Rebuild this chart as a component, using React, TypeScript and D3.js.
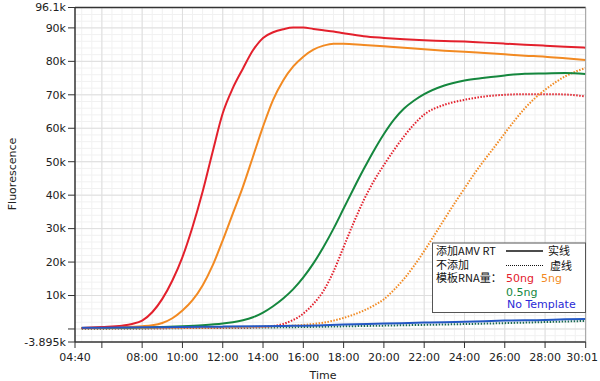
import React from "react";
import * as d3 from "d3";

const W = 600;
const H = 381;
const PLOT = { left: 75, right: 585.7, top: 7.5, bottom: 342 };

// x ticks (mm:ss)
const xTickTimes = ["04:40", "06:00", "08:00", "10:00", "12:00", "14:00", "16:00", "18:00", "20:00", "22:00", "24:00", "26:00", "28:00", "30:01"];
const xTickLabels = ["04:40", "", "08:00", "10:00", "12:00", "14:00", "16:00", "18:00", "20:00", "22:00", "24:00", "26:00", "28:00", "30:01"];
// y ticks
const yTickValues = [96100, 90000, 80000, 70000, 60000, 50000, 40000, 30000, 20000, 10000, 0, -3895];
const yTickLabels = ["96.1k", "90k", "80k", "70k", "60k", "50k", "40k", "30k", "20k", "10k", "", "-3.895k"];

// Series: time in minutes, fluorescence in thousands
const redSolidTime = [5, 6, 7, 7.5, 8, 8.5, 9, 9.5, 10, 10.5, 11, 11.5, 12, 12.5, 13, 13.5, 14, 14.5, 15, 15.5, 16, 16.5, 17, 17.5, 18, 19, 20, 21, 22, 23, 24, 25, 26, 27, 28, 29, 30];
const redSolidValue = [0.3, 0.6, 1.0, 1.5, 2.5, 5.0, 9.0, 14.5, 21.5, 30.5, 41, 53, 64.5, 72, 77.8, 83.3, 87, 88.7, 89.6, 90.1, 90.1, 89.7, 89.3, 88.9, 88.4, 87.5, 87, 86.6, 86.3, 86.1, 85.9, 85.6, 85.3, 85, 84.7, 84.4, 84.1];

const orangeSolidTime = [5, 6, 7, 8, 8.5, 9, 9.5, 10, 10.5, 11, 11.5, 12, 12.5, 13, 13.5, 14, 14.5, 15, 15.5, 16, 16.5, 17, 17.5, 18, 19, 20, 21, 22, 23, 24, 25, 26, 27, 28, 29, 30];
const orangeSolidValue = [0.3, 0.4, 0.5, 0.8, 1.1, 1.8, 3.2, 5.5, 8.6, 13, 19, 26.5, 34.5, 42.5, 51.5, 60.5, 68.5, 74.3, 78.5, 81.4, 83.5, 84.7, 85.3, 85.3, 84.9, 84.5, 84.1, 83.6, 83.2, 82.9, 82.5, 82.1, 81.7, 81.4, 80.9, 80.4];

const greenSolidTime = [5, 6, 7, 8, 9, 10, 11, 12, 12.5, 13, 13.5, 14, 14.5, 15, 15.5, 16, 16.5, 17, 17.5, 18, 18.5, 19, 19.5, 20, 20.5, 21, 21.5, 22, 23, 24, 25, 26, 27, 28, 29, 30];
const greenSolidValue = [0.3, 0.3, 0.4, 0.5, 0.6, 0.8, 1.1, 1.6, 2.0, 2.6, 3.5, 4.9, 6.8, 9.1, 11.9, 15.4, 19.6, 24.5, 30, 36, 42, 47.8, 53.3, 58.3, 62.6, 65.9, 68.3, 70.2, 72.8, 74.3, 75.1, 75.8, 76.3, 76.4, 76.5, 76.2];

const redDottedTime = [5, 8, 10, 12, 13, 14, 14.5, 15, 15.5, 16, 16.5, 17, 17.5, 18, 18.5, 19, 19.5, 20, 20.5, 21, 21.5, 22, 23, 24, 25, 26, 27, 28, 29, 30];
const redDottedValue = [0.2, 0.2, 0.3, 0.4, 0.45, 0.6, 0.9, 1.5, 2.7, 4.6, 7.5, 11.4, 17.2, 24.5, 31.8, 38.5, 44.2, 49, 53.5, 57.6, 61.2, 64.1, 67, 68.5, 69.5, 70, 70.2, 70.2, 70.1, 69.5];

const orangeDottedTime = [5, 8, 10, 12, 14, 15, 16, 16.5, 17, 17.5, 18, 18.5, 19, 19.5, 20, 20.5, 21, 21.5, 22, 22.5, 23, 23.5, 24, 24.5, 25, 25.5, 26, 26.5, 27, 27.5, 28, 28.5, 29, 29.5, 30];
const orangeDottedValue = [0.2, 0.3, 0.4, 0.5, 0.7, 0.9, 1.2, 1.5, 1.9, 2.5, 3.3, 4.3, 5.5, 7, 8.9, 11.7, 15.0, 18.9, 23.3, 28, 32.8, 37.5, 42, 46.5, 50.6, 54.5, 58.5, 62.4, 66, 69, 71.5, 73.7, 75.5, 76.9, 78];

const blueSolidTime = [5, 8, 10, 12, 15, 17, 18, 20, 22, 23, 25, 26, 28, 29, 30];
const blueSolidValue = [0.35, 0.5, 0.6, 0.7, 0.9, 1.1, 1.3, 1.6, 1.9, 2.0, 2.3, 2.5, 2.7, 2.9, 3.0];

const greenDottedTime = [5, 10, 15, 20, 25, 30];
const greenDottedValue = [0.05, 0.25, 0.5, 1.0, 1.6, 2.4];

const RED = "#e3202c";
const ORANGE = "#f28a22";
const GREEN = "#15873e";
const BLUE = "#2458c4";
const DKGREEN = "#1c6a52";

const toSec = (s: string) => {
  const [m, sec] = s.split(":").map(Number);
  return m * 60 + sec;
};

const x = d3.scaleLinear().domain([toSec("04:40"), toSec("30:01")]).range([PLOT.left, PLOT.right]);
const y = d3.scaleLinear().domain([-3895, 96100]).range([PLOT.bottom, PLOT.top]);

const line = d3
  .line<[number, number]>()
  .x((d) => x(d[0] * 60))
  .y((d) => y(d[1] * 1000))
  .curve(d3.curveMonotoneX);

const mk = (t: number[], v: number[]) => line(t.map((tt, i) => [tt, v[i]] as [number, number])) || "";

const series = [
  { t: greenDottedTime, v: greenDottedValue, c: DKGREEN, dotted: true },
  { t: redDottedTime, v: redDottedValue, c: RED, dotted: true },
  { t: orangeDottedTime, v: orangeDottedValue, c: ORANGE, dotted: true },
  { t: greenSolidTime, v: greenSolidValue, c: GREEN, dotted: false },
  { t: orangeSolidTime, v: orangeSolidValue, c: ORANGE, dotted: false },
  { t: redSolidTime, v: redSolidValue, c: RED, dotted: false },
  { t: blueSolidTime, v: blueSolidValue, c: BLUE, dotted: false },
];

const FONT = "'DejaVu Sans', Verdana, sans-serif";
const CJK = "'Noto Sans CJK SC', 'DejaVu Sans', sans-serif";

export default function App() {
  const minorX: number[] = [];
  for (let s = 300; s <= 1800; s += 30) minorX.push(s);
  const majorX = xTickTimes.slice(1, -1).map(toSec);
  const minorY: number[] = [];
  for (let v = -2000; v <= 96000; v += 2000) minorY.push(v);
  const majorY = d3.range(0, 90001, 10000);

  return (
    <div style={{ position: "absolute", left: 0, top: 0 }}>
      <svg width={W} height={H} style={{ display: "block", background: "#fff" }}>
        <rect x={0} y={0} width={W} height={H} fill="#fff" />
        {minorX.map((s) => (
          <line key={"mx" + s} x1={x(s)} x2={x(s)} y1={PLOT.top} y2={PLOT.bottom} stroke="#f1f1f1" strokeWidth={1} />
        ))}
        {minorY.map((v) => (
          <line key={"my" + v} x1={PLOT.left} x2={PLOT.right} y1={y(v)} y2={y(v)} stroke="#f1f1f1" strokeWidth={1} />
        ))}
        {majorX.map((s) => (
          <line key={"Mx" + s} x1={x(s)} x2={x(s)} y1={PLOT.top} y2={PLOT.bottom} stroke="#dedede" strokeWidth={1} />
        ))}
        {majorY.map((v) => (
          <line key={"My" + v} x1={PLOT.left} x2={PLOT.right} y1={y(v)} y2={y(v)} stroke="#dedede" strokeWidth={1} />
        ))}

        {series.map((s, i) => (
          <path
            key={"s" + i}
            d={mk(s.t, s.v)}
            fill="none"
            stroke={s.c}
            strokeWidth={2}
            strokeDasharray={s.dotted ? "1.5,1.5" : undefined}
          />
        ))}

        <line x1={PLOT.left} x2={PLOT.right} y1={PLOT.top} y2={PLOT.top} stroke="#333" strokeWidth={1.5} />
        <line x1={PLOT.right} x2={PLOT.right} y1={PLOT.top} y2={PLOT.bottom} stroke="#999" strokeWidth={1} />
        <line x1={PLOT.left} x2={PLOT.left} y1={PLOT.top} y2={PLOT.bottom} stroke="#333" strokeWidth={1.5} />
        <line x1={PLOT.left} x2={PLOT.right} y1={PLOT.bottom} y2={PLOT.bottom} stroke="#333" strokeWidth={1.5} />

        {yTickValues.map((v, i) => (
          <g key={"yt" + i}>
            <line x1={PLOT.left - 7} x2={PLOT.left} y1={y(v)} y2={y(v)} stroke="#333" strokeWidth={1} />
            <text x={PLOT.left - 9} y={y(v)} dy="0.35em" textAnchor="end" fontFamily={FONT} fontSize={11} fill="#222">
              {yTickLabels[i]}
            </text>
          </g>
        ))}
        {xTickTimes.map((t, i) => {
          const last = i === xTickTimes.length - 1;
          return (
            <g key={"xt" + i}>
              <line x1={x(toSec(t))} x2={x(toSec(t))} y1={PLOT.bottom} y2={PLOT.bottom + 6} stroke="#333" strokeWidth={1} />
              <text
                x={last ? 598 : x(toSec(t))}
                y={361}
                textAnchor={last ? "end" : "middle"}
                fontFamily={FONT}
                fontSize={11}
                fill="#222"
              >
                {xTickLabels[i]}
              </text>
            </g>
          );
        })}

        <text x={323} y={379} textAnchor="middle" fontFamily={FONT} fontSize={11} fill="#222">
          Time
        </text>
        <text transform="translate(16,174) rotate(-90)" textAnchor="middle" fontFamily={FONT} fontSize={11} fill="#222">
          Fluorescence
        </text>

        <g>
          <rect x={432.5} y={243} width={153} height={69.5} fill="#fff" stroke="#555" strokeWidth={1} />
          <text x={436} y={255} fontFamily={CJK} fontSize={11} fill="#111">添加AMV RT</text>
          <line x1={506} x2={543} y1={251} y2={251} stroke="#111" strokeWidth={1.5} />
          <text x={548} y={255} fontFamily={CJK} fontSize={11} fill="#111">实线</text>
          <text x={436} y={268.5} fontFamily={CJK} fontSize={11} fill="#111">不添加</text>
          <line x1={506} x2={543} y1={265.5} y2={265.5} stroke="#111" strokeWidth={1} strokeDasharray="1,1" />
          <text x={550} y={269.5} fontFamily={CJK} fontSize={11} fill="#111">虚线</text>
          <text x={436} y={282} fontFamily={CJK} fontSize={11} fill="#111">模板RNA量：</text>
          <text x={506} y={282} fontFamily={FONT} fontSize={11} fill={RED}>50ng</text>
          <text x={541} y={282} fontFamily={FONT} fontSize={11} fill={ORANGE}>5ng</text>
          <text x={506} y={295.5} fontFamily={FONT} fontSize={11} fill={GREEN}>0.5ng</text>
          <text x={507} y={308} fontFamily={FONT} fontSize={11} fill="#2a2ad6">No Template</text>
        </g>
      </svg>
    </div>
  );
}
